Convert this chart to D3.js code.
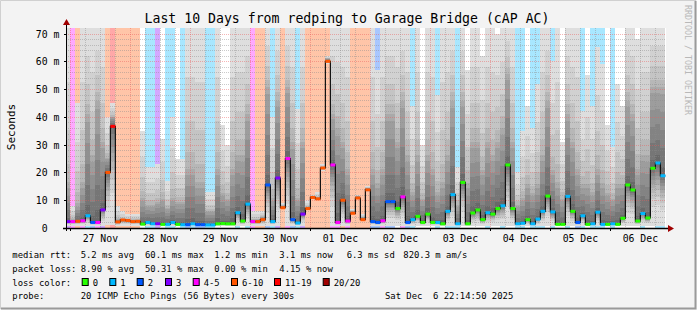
<!DOCTYPE html>
<html><head><meta charset="utf-8">
<script src="https://cdn.jsdelivr.net/npm/d3@7"></script>
<style>
body{margin:0;background:#f3f3f3}
svg{display:block}
text{font-family:"DejaVu Sans Mono",monospace;white-space:pre}
</style></head>
<body><svg id="chart" width="697" height="310"></svg>
<script>
// ---- data (2-hour buckets starting 26 Nov 22:00) ----
const medianMs = [2.3,2.3,2.4,2.6,4.4,2.0,2.0,6.5,20,36.6,2.2,2.9,2.7,2.3,2.4,1.4,2.0,1.5,1.5,1.3,
1.3,2.0,1.3,1.2,1.2,1.5,1.2,1.2,1.1,1.1,1.5,1.6,1.5,1.5,5.5,2.5,8.6,2.3,2.3,3.0,
15.5,2.3,18,7.3,25,3,1.8,5,7,11,10.5,21.6,60,22.7,2,10,2.5,5.3,10.8,3,
13.7,2.3,2,2.6,9.5,9.5,7,11.2,2,3,4.2,2,5,2,2,1.5,6,12,1.5,16.4,
1.5,5.4,6.5,3,5.5,5,7,8,22.7,7,1.5,1.7,3,1.5,3.2,6,11.5,5.8,1.3,1.3,
11.4,6,2,4.4,1.3,1.5,5.7,1.3,1.3,1.5,1.3,3.5,15.5,13.7,2.5,5.2,3.6,21.5,23.4,18.8];
const lossCount = [3,4,6,4,1,2,4,3,6,11,6,6,7,6,6,0,1,1,3,0,
1,1,0,1,2,1,2,2,1,1,0,0,0,0,1,0,1,4,6,6,
2,1,3,6,5,2,1,3,6,6,6,6,6,4,5,6,4,6,6,6,
6,2,2,4,2,2,0,4,2,1,0,0,0,0,1,0,1,1,1,0,
0,0,0,0,1,0,0,1,0,0,1,1,0,1,1,1,0,1,0,0,
1,0,2,1,0,1,1,1,0,1,0,0,0,0,0,1,0,0,1,1];
const smokeMax = [75,8,45,75,75,75,75,75,40,45,8,6,5,5,5,35,22,22,23,32,
17,40,25,25,75,75,75,75,13,13,75,37,30,75,75,75,75,6,6,6,
75,40,75,9,75,75,43,75,10,12,13,23,62,75,75,75,75,7,12,5,
15,75,57,75,75,75,75,75,75,44,75,30,75,75,48,75,75,75,22,75,
57,75,75,62,75,75,70,75,75,75,20,35,44,36,52,75,75,60,75,31,
75,75,75,42,55,44,65,59,37,29,52,44,75,75,68,75,75,75,75,75];
const smokeQ3 = [15,3,8,15,40,25,45,30,25,40,3,3,3,2.8,2.8,10,8,8,9,10,
7,10,9,9,20,20,15,15,6,6,20,12,10,20,25,25,40,3,3,4,
50,10,45,8,50,30,10,30,7.5,11.5,11,22,61,40,35,30,20,6,11.5,4,
14.5,20,15,20,40,40,30,45,25,12,25,10,25,20,12,15,25,45,8,45,
15,30,30,20,30,25,30,35,55,30,8,10,15,12,15,25,45,20,15,10,
40,30,20,15,15,12,20,15,12,10,15,15,45,40,20,25,25,50,50,50];
const smokeMin = [0.8,0.8,0.8,0.8,0.8,0.8,0.8,0.8,1,1,0.8,0.8,0.8,0.8,0.8,0.8,0.8,0.8,0.8,0.8,
0.8,0.8,0.8,0.8,0.8,0.8,0.8,0.8,0.8,0.8,0.8,0.8,0.8,0.8,0.8,0.8,0.8,0.8,0.8,0.8,
0.8,0.8,0.8,6.8,0.8,0.8,0.8,0.8,6.5,10.5,10,20.5,59,0.8,0.8,0.8,0.8,5,10.3,2.5,
13,0.8,0.8,0.8,0.8,0.8,0.8,0.8,0.8,0.8,0.8,0.8,0.8,0.8,0.8,0.8,0.8,0.8,0.8,0.8,
0.8,0.8,0.8,0.8,0.8,0.8,0.8,0.8,0.8,0.8,0.8,0.8,0.8,0.8,0.8,0.8,0.8,0.8,0.8,0.8,
0.8,0.8,0.8,0.8,0.8,0.8,0.8,0.8,0.8,0.8,0.8,0.8,0.8,0.8,0.8,0.8,0.8,0.8,0.8,0.8];

const dayLabels = ["27 Nov","28 Nov","29 Nov","30 Nov","01 Dec","02 Dec","03 Dec","04 Dec","05 Dec","06 Dec"];
const yTickValues = [0,10,20,30,40,50,60,70];
const yTickLabels = [" 0","10 m","20 m","30 m","40 m","50 m","60 m","70 m"];
const lossLabels = ["0","1","2","3","4-5","6-10","11-19","20/20"];
const lossColors = ["#26ff00","#00b8ff","#0059ff","#7e00ff","#ff00ff","#ff5500","#ff0000","#a10000"];
const title = "Last 10 Days from redping to Garage Bridge (cAP AC)";
const statsRtt = [["median rtt:",12.3],["5.2 ms avg",80.7],["60.1 ms max",145],["1.2 ms min",214.3],["3.1 ms now",279.3],["6.3 ms sd",346.7],["820.3 m am/s",403.3]];
const statsLoss = [["packet loss:",12.3],["8.90 % avg",80.7],["50.31 % max",145],["0.00 % min",214.3],["4.15 % now",279.3]];
const probeText = "20 ICMP Echo Pings (56 Bytes) every 300s";
const dateText = "Sat Dec  6 22:14:50 2025";

// ---- chart ----
const T0 = new Date(2025,10,26,22,14,50), T1 = new Date(2025,11,6,22,14,50);
const B0 = new Date(2025,10,26,22,0,0), STEP = 2*3600*1000;
const L=66,R=666,TOP=28,BOT=228;
const x = d3.scaleTime().domain([T0,T1]).range([L,R]);
const y = d3.scaleLinear().domain([0,72]).range([BOT,TOP]);
const svg = d3.select("#chart");

svg.append("rect").attr("width",697).attr("height",310).attr("fill","#f3f3f3");
svg.append("path").attr("d","M0.5,309 V0.5 H696").attr("fill","none").attr("stroke","#d0d0d0").attr("stroke-width",1);
svg.append("path").attr("d","M1,308.5 H695.5 V1").attr("fill","none").attr("stroke","#9a9a9a").attr("stroke-width",2);

svg.append("rect").attr("x",L).attr("y",TOP).attr("width",R-L).attr("height",BOT-TOP).attr("fill","#fff");
svg.append("defs").append("clipPath").attr("id","clip").append("rect")
  .attr("x",L).attr("y",TOP).attr("width",R-L).attr("height",BOT-TOP);
const g = svg.append("g").attr("clip-path","url(#clip)");

function lossClass(n){ if(n<=0) return 0; if(n<=3) return n; if(n<=5) return 4; if(n<=10) return 5; if(n<=19) return 6; return 7; }
function tint(c,a){ const r=d3.rgb(c); return d3.rgb(255-(255-r.r)*a,255-(255-r.g)*a,255-(255-r.b)*a).formatHex(); }
const bx0 = i => x(new Date(+B0 + i*STEP));
const bx1 = i => x(new Date(+B0 + (i+1)*STEP));

// loss background bands
medianMs.forEach((m,i)=>{
  const c = lossClass(lossCount[i]);
  if(c>0) g.append("rect").attr("x",bx0(i)).attr("y",TOP).attr("width",bx1(i)-bx0(i)).attr("height",BOT-TOP)
    .attr("fill",tint(lossColors[c],0.34)).attr("shape-rendering","crispEdges");
});

// smoke
function quant(i,q){
  const lo=smokeMin[i], md=medianMs[i], q3=Math.max(smokeQ3[i],md), mx=Math.max(smokeMax[i],q3);
  if(q<=0.5) return lo+(md-lo)*Math.sqrt(q/0.5);
  if(q<=0.75) return md+(q3-md)*((q-0.5)/0.25);
  const t=(q-0.75)/0.25; return q3+(mx-q3)*t*t;
}
medianMs.forEach((m,i)=>{
  for(let k=0;k<10;k++){
    const lo=quant(i,k/19), hi=quant(i,(19-k)/19);
    const gv=Math.round(222-13*k);
    g.append("rect").attr("x",bx0(i)).attr("width",bx1(i)-bx0(i))
      .attr("y",y(hi)).attr("height",Math.max(0,y(lo)-y(hi)))
      .attr("fill",d3.rgb(gv,gv,gv)).attr("shape-rendering","crispEdges");
  }
});

// grid
const gridG = svg.append("g");
for(let v=2; v<72; v+=2){
  const major = v%10===0;
  gridG.append("line").attr("x1",L).attr("x2",R).attr("y1",Math.round(y(v))+0.5).attr("y2",Math.round(y(v))+0.5)
    .attr("stroke",major?"rgba(235,90,90,0.45)":"rgba(140,140,140,0.45)").attr("stroke-dasharray","1,1");
}
const ticks6h = d3.timeHour.every(6).range(T0,T1);
ticks6h.forEach(t=>{
  const major = t.getHours()===0, px=Math.round(x(t))+0.5;
  gridG.append("line").attr("x1",px).attr("x2",px).attr("y1",TOP).attr("y2",BOT)
    .attr("stroke",major?"rgba(235,90,90,0.45)":"rgba(140,140,140,0.45)").attr("stroke-dasharray","1,1");
});

// median step line
const mg = svg.append("g").attr("clip-path","url(#clip)");
let d="";
medianMs.forEach((m,i)=>{ const yy=y(m); d += (i===0?"M":"L")+bx0(i)+","+yy+"L"+bx1(i)+","+yy; });
mg.append("path").attr("d",d).attr("fill","none").attr("stroke","#111").attr("stroke-width",1.2);
medianMs.forEach((m,i)=>{
  mg.append("rect").attr("x",bx0(i)).attr("width",bx1(i)-bx0(i)).attr("y",y(m)-1.5).attr("height",3)
    .attr("fill",lossColors[lossClass(lossCount[i])]);
});

// axes
svg.append("line").attr("x1",L-3).attr("x2",669).attr("y1",228.5).attr("y2",228.5).attr("stroke","#000").attr("stroke-width",1.5);
svg.append("line").attr("x1",L+0.5).attr("x2",L+0.5).attr("y1",231).attr("y2",24).attr("stroke","#000").attr("stroke-width",1);
svg.append("path").attr("d","M668,225 L674,228.5 L668,232 Z").attr("fill","#a00000");
svg.append("path").attr("d","M63,25 L66.5,19 L70,25 Z").attr("fill","#a00000");
yTickValues.forEach((v,i)=>{
  const yy=Math.round(y(v))+0.5;
  svg.append("line").attr("x1",L-2).attr("x2",L).attr("y1",yy).attr("y2",yy).attr("stroke","#000");
  svg.append("text").attr("x",35.8).attr("y",yy+3.5).attr("font-size",9.8).attr("fill","#000").text(yTickLabels[i]);
});
d3.timeDay.range(new Date(2025,10,27),T1).forEach(t=>{
  const px=Math.round(x(t))+0.5;
  svg.append("line").attr("x1",px).attr("x2",px).attr("y1",228).attr("y2",231).attr("stroke","#000");
});
dayLabels.forEach((lab,i)=>{
  const t = new Date(2025,10,27+i,12,0,0);
  svg.append("text").attr("x",x(t)).attr("y",241.5).attr("text-anchor","middle").attr("font-size",9.8).text(lab);
});

// titles
svg.append("text").attr("x",347).attr("y",23).attr("text-anchor","middle").attr("font-size",13.2).text(title);
svg.append("text").attr("transform","translate(15,127) rotate(-90)").attr("text-anchor","middle").attr("font-size",11).text("Seconds");
svg.append("text").attr("transform","translate(685,5) rotate(90)").attr("font-size",8.3).attr("fill","#b8b8b8").text("RRDTOOL / TOBI OETIKER");

// legend
const fs=8.9;
statsRtt.forEach(([t,px])=>svg.append("text").attr("x",px).attr("y",258).attr("font-size",fs).text(t));
statsLoss.forEach(([t,px])=>svg.append("text").attr("x",px).attr("y",271.5).attr("font-size",fs).text(t));
svg.append("text").attr("x",12.3).attr("y",285.5).attr("font-size",fs).text("loss color:");
const boxX=[81.7,109.3,136.7,165,192.7,231,274,322.7];
lossLabels.forEach((lab,i)=>{
  svg.append("rect").attr("x",boxX[i]+0.5).attr("y",278.5).attr("width",6).attr("height",7).attr("fill",lossColors[i]).attr("stroke","#000").attr("stroke-width",1);
  svg.append("text").attr("x",boxX[i]+11).attr("y",285.5).attr("font-size",fs).text(lab);
});
svg.append("text").attr("x",12.3).attr("y",299).attr("font-size",fs).text("probe:");
svg.append("text").attr("x",80.7).attr("y",299).attr("font-size",fs).text(probeText);
svg.append("text").attr("x",385).attr("y",299).attr("font-size",fs).text(dateText);
</script></body></html>
